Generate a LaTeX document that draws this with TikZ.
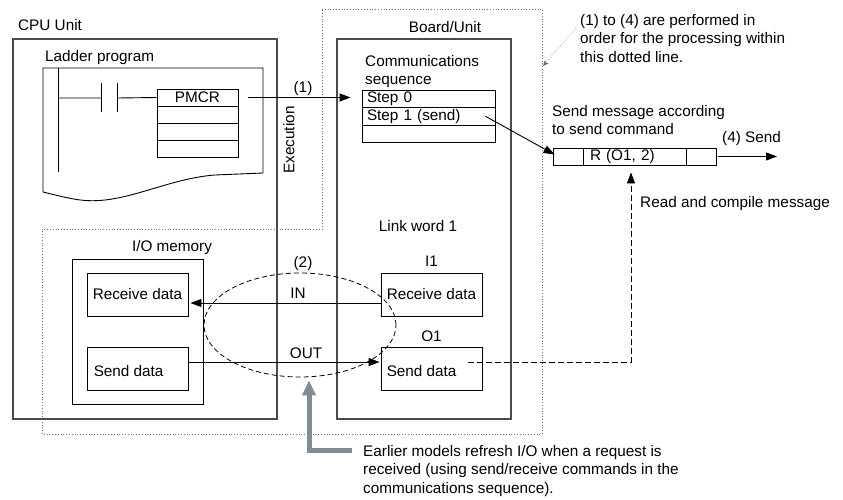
\documentclass[tikz,border=0pt]{standalone}
\usepackage{fontspec}
\setmainfont{Liberation Sans}
\usepackage{xcolor}
\usepackage{tikz}
\usetikzlibrary{arrows.meta, positioning, shapes.geometric, calc}

\definecolor{refreshgray}{RGB}{128,139,148}

\begin{document}
\begin{tikzpicture}[
    x=1pt, y=-1pt,
    every node/.style={font=\fontsize{15.3}{18.4}\selectfont, inner sep=0pt},
    unitbox/.style={draw=black!70, line width=1.4pt, minimum width=#1, minimum height=380pt},
    cell/.style={draw, line width=0.9pt, minimum height=17.5pt, text width=#1, align=left, inner xsep=5pt},
    pmrow/.style={draw, line width=0.9pt, minimum width=81pt, minimum height=17pt},
    msgcell/.style={draw, line width=0.9pt, minimum width=#1, minimum height=17pt},
    iobox/.style={draw, line width=0.9pt, minimum width=101pt, minimum height=43pt},
    iotext/.style={anchor=west},
    note/.style={anchor=base west, align=left},
    blocknote/.style={anchor=north west, align=left},
    lbl/.style={anchor=base},
    flow/.style={line width=0.9pt, -{Triangle[length=11pt,width=8pt]}},
    region/.style={black!55, line width=0.8pt, dotted}
]

% page size of the reference
\useasboundingbox (0,0) rectangle (843,499);

% dotted region: steps (1) to (4)
\draw[region] (322,9) -- (542,9) -- (542,434) -- (42,434) -- (42,229) -- (322,229) -- cycle;

% the two units
\node[unitbox=264pt] (cpu)   at (145,229) {};
\node[unitbox=174pt] (board) at (424,229) {};
\node[note] (cpulabel)   at (18,30)  {CPU Unit};
\node[lbl]  (boardlabel) at (445,32) {Board/Unit};

% ladder program sheet with torn bottom edge
\node[note] (ladderlabel) at (45,61) {Ladder program};
\draw[line width=0.9pt] (263,173) -- (263,68) -- (43,68) -- (43,192)
    .. controls (75,200) and (85,202) .. (105,200)
    .. controls (140,196) and (175,178) .. (215,175) -- cycle;

% rung with contact and PMCR block
\foreach \txt [count=\i] in {PMCR,{},{},{}} {
    \node[pmrow] (pmcr\i) at (197.5, 80.5+\i*17) {\txt};
}
\draw[line width=0.9pt] (58,68) -- (58,172);
\draw[line width=0.9pt] (58,98) -- (101,98) (117,98) -- (pmcr1.west);
\foreach \x in {101,117} {
    \draw[line width=0.9pt] (\x,83) -- (\x,112);
}

% communications sequence
\node[blocknote] (seqlabel) at (365,55) {Communications\\sequence};
\foreach \name/\txt [count=\i] in {step0/Step 0, step1/Step 1 (send), step2/{}} {
    \node[cell=123pt] (\name) at (428.5, 81.25+\i*17.5) {\txt};
}

% step (1): PMCR starts the sequence
\node[lbl] (lbl1) at (303,92) {(1)};
\node[rotate=90] (execlabel) at (289,140) {Execution};
\draw[flow, shorten >=11pt] ([xshift=10pt]pmcr1.east) -- (pmcr1.east -| step0.west);

% send message
\node[blocknote] (msglabel) at (552,105) {Send message according\\to send command};
\node[msgcell=30pt]  (msgA) at (568,156.5) {};
\node[msgcell=103pt, text width=89pt, inner xsep=7pt, align=left] (msgB) at (634.5,156.5) {R (O1, 2)};
\node[msgcell=30pt]  (msgC) at (701,156.5) {};
\draw[flow] ([xshift=-10pt]step1.east) -- ([shift={(2pt,-7pt)}]msgA.north west);
\coordinate (sendend) at (777,156.5);
\draw[flow] ([xshift=2pt]msgC.east) -- (sendend);
\node[note] (sendlabel) at (722,142) {(4) Send};

% note on the dotted region
\node[blocknote] (procnote) at (580,14) {(1) to (4) are performed in\\order for the processing within\\this dotted line.};
\coordinate (regionedge) at (543,66);
\draw[black!60, line width=0.6pt, dotted, -{Stealth[length=6pt,width=5pt]}] ([shift={(-4pt,-14pt)}]procnote.north west) -- (regionedge);

% I/O memory
\node[lbl] (iolabel) at (172,251) {I/O memory};
\node[draw, line width=0.9pt, minimum width=131pt, minimum height=145pt] (iomem) at (137.5,331.5) {};
\node[iobox] (recvL) at (137.5,294.5) {};
\node[iobox] (sendL) at (137.5,368.5) {};
\node[iotext] (recvLtext) at ([xshift=6pt]recvL.west) {Receive data};
\node[iotext] (sendLtext) at ([shift={(7pt,-3pt)}]sendL.west) {Send data};

% link words
\node[lbl] (linklabel) at (418,231) {Link word 1};
\node[iobox] (recvR) at (431.5,294.5) {};
\node[iobox] (sendR) at (431.5,368.5) {};
\node[iotext] (recvRtext) at ([xshift=6pt]recvR.west) {Receive data};
\node[iotext] (sendRtext) at ([shift={(6pt,-3pt)}]sendR.west) {Send data};
\node[lbl, above=6pt of recvR] (i1label) {I1};
\node[lbl, above=5pt of sendR] (o1label) {O1};

% step (2): IN / OUT refresh
\node[lbl] (lbl2)   at (303,267) {(2)};
\node[lbl] (inlbl)  at (298,298) {IN};
\node[lbl] (outlbl) at (306,358) {OUT};
\draw[flow] ([yshift=-8.5pt]recvR.west) -- ([xshift=2pt,yshift=-8.5pt]recvL.east);
\draw[flow] ([yshift=6.5pt]sendL.east) -- ([xshift=-1pt,yshift=6.5pt]sendR.west);
\node[draw, line width=0.8pt, dash pattern=on 5pt off 3pt, ellipse, minimum width=192pt, minimum height=104pt] (refresh) at (300,325) {};

% read and compile
\node[note] (readlabel) at (640,207) {Read and compile message};
\draw[flow, dash pattern=on 6pt off 3pt, shorten >=7pt] ([shift={(-14pt,6.5pt)}]sendR.east) -| ([xshift=-3.5pt]msgB.south);

% earlier models
\node[blocknote] (earlynote) at (363,445) {Earlier models refresh I/O when a request is\\received (using send/receive commands in the\\communications sequence).};
\coordinate (refreshtip) at ([shift={(9pt,-3pt)}]refresh.south);
\draw[refreshgray, line width=5pt, -{Triangle[length=15pt,width=13pt]}] ([shift={(-11pt,-5pt)}]earlynote.north west) -| (refreshtip);

\end{tikzpicture}
\end{document}
